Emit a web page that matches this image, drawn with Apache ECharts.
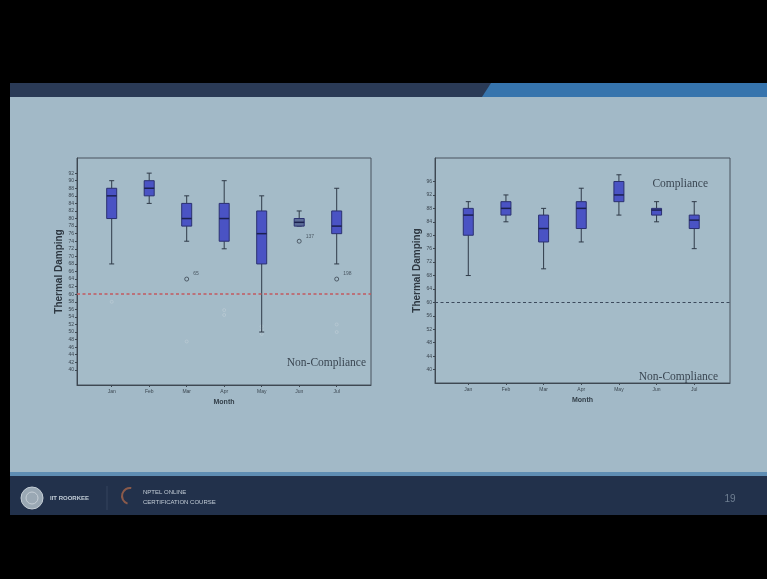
<!DOCTYPE html>
<html><head><meta charset="utf-8">
<script src="https://cdn.jsdelivr.net/npm/echarts@6/dist/echarts.min.js"></script>
<style>html,body{margin:0;padding:0;background:#000}#c{width:767px;height:579px}</style>
</head><body><div id="c"></div>
<script>
// ---------- data ----------
const months = ['Jan','Feb','Mar','Apr','May','Jun','Jul'];
const monthIdx = [0,1,2,3,4,5,6];

// Left chart: box statistics per month
const leftLow  = [68, 84, 74, 72, 50, 78, 68];
const leftQ1   = [80, 86, 78, 74, 68, 78, 76];
const leftMed  = [86, 88, 80, 80, 76, 79, 78];
const leftQ3   = [88, 90, 84, 84, 82, 80, 82];
const leftHigh = [90, 92, 86, 90, 86, 82, 88];
const leftOutliers = [[2, 64], [5, 74], [6, 64]];
const leftOutlierLabels = ['65', '137', '198'];
const leftFaint = [[0, 58], [2, 47.5], [3, 54.5], [3, 55.8], [4, 49.5], [4, 50.5], [4, 51.5], [6, 50], [6, 52]];
const leftTicks = [40,42,44,46,48,50,52,54,56,58,60,62,64,66,68,70,72,74,76,78,80,82,84,86,88,90,92];

// Right chart: box statistics per month
const rightLow  = [68, 84, 70, 78, 86, 84, 76];
const rightQ1   = [80, 86, 78, 82, 90, 86, 82];
const rightMed  = [86, 88, 82, 88, 92, 87.5, 84.5];
const rightQ3   = [88, 90, 86, 90, 96, 88, 86];
const rightHigh = [90, 92, 88, 94, 98, 90, 90];
const rightTicks = [40,44,48,52,56,60,64,68,72,76,80,84,88,92,96];

const threshold = 60;

// ---------- build ----------
const leftBoxes = monthIdx.map(i => [i, leftLow[i], leftQ1[i], leftMed[i], leftQ3[i], leftHigh[i]]);
const rightBoxes = monthIdx.map(i => [i, rightLow[i], rightQ1[i], rightMed[i], rightQ3[i], rightHigh[i]]);

function boxRenderer(fills) {
  return function (params, api) {
    const x = api.value(0);
    const low = api.coord([x, api.value(1)]);
    const q1 = api.coord([x, api.value(2)]);
    const med = api.coord([x, api.value(3)]);
    const q3 = api.coord([x, api.value(4)]);
    const high = api.coord([x, api.value(5)]);
    const cx = low[0], hw = 5, cw = 2.5;
    const ls = { stroke: '#2f3a48', lineWidth: 1 };
    return {
      type: 'group',
      children: [
        { type: 'line', shape: { x1: cx, y1: high[1], x2: cx, y2: q3[1] }, style: ls },
        { type: 'line', shape: { x1: cx, y1: q1[1], x2: cx, y2: low[1] }, style: ls },
        { type: 'line', shape: { x1: cx - cw, y1: high[1], x2: cx + cw, y2: high[1] }, style: ls },
        { type: 'line', shape: { x1: cx - cw, y1: low[1], x2: cx + cw, y2: low[1] }, style: ls },
        { type: 'rect', shape: { x: cx - hw, y: q3[1], width: hw * 2, height: Math.max(q1[1] - q3[1], 1) },
          style: { fill: fills[params.dataIndex] || '#4a53c4', stroke: '#2b3070', lineWidth: 1 } },
        { type: 'line', shape: { x1: cx - hw, y1: med[1], x2: cx + hw, y2: med[1] }, style: { stroke: '#1c2150', lineWidth: 1.5 } }
      ]
    };
  };
}
const leftFills = ['#4a53c4','#4a53c4','#4a53c4','#4a53c4','#4a53c4','#5c6c98','#4a53c4'];
const rightFills = ['#4a53c4','#4a53c4','#4a53c4','#4a53c4','#4a53c4','#4a53c4','#4a53c4'];

const axisText = { color: '#3b4650', fontFamily: 'Liberation Sans' };
function xAxisCfg(gi, min, max) {
  return {
    gridIndex: gi, type: 'value', min: min, max: max,
    name: 'Month', nameLocation: 'middle', nameGap: 14,
    nameTextStyle: { fontSize: 7, fontWeight: 'bold', color: '#34404a', fontFamily: 'Liberation Sans' },
    axisLine: { onZero: false, lineStyle: { color: '#3e4852', width: 1 } },
    axisTick: { length: 2, lineStyle: { color: '#3e4852' }, customValues: monthIdx },
    axisLabel: { fontSize: 5, margin: 4, ...axisText, customValues: monthIdx, formatter: v => months[Math.round(v)] || '' },
    splitLine: { show: false }
  };
}
function yAxisCfg(gi, min, max, ticks, gap) {
  return {
    gridIndex: gi, type: 'value', min: min, max: max,
    name: 'Thermal Damping', nameLocation: 'middle', nameGap: gap, nameRotate: 90,
    nameTextStyle: { fontSize: 10, fontWeight: 'bold', color: '#2e3842', fontFamily: 'Liberation Sans' },
    axisLine: { show: true, onZero: false, lineStyle: { color: '#3e4852', width: 1 } },
    axisTick: { show: true, length: 2, lineStyle: { color: '#3e4852' }, customValues: ticks },
    axisLabel: { fontSize: 5, margin: 3, ...axisText, customValues: ticks },
    splitLine: { show: false }
  };
}

const chart = echarts.init(document.getElementById('c'), null, { renderer: 'canvas' });
chart.setOption({
  backgroundColor: '#000000',
  animation: false,
  graphic: [
    // slide background
    { type: 'rect', z: -10, shape: { x: 10, y: 97, width: 757, height: 378 }, style: { fill: '#a2b9c7' } },
    // top band
    { type: 'rect', z: -10, shape: { x: 10, y: 83, width: 757, height: 14 }, style: { fill: '#2a3a56' } },
    { type: 'polygon', z: -9, shape: { points: [[482, 97], [491, 83], [767, 83], [767, 97]] }, style: { fill: '#3674ad' } },
    // footer
    { type: 'rect', z: -10, shape: { x: 10, y: 472, width: 757, height: 4 }, style: { fill: '#5f8db3' } },
    { type: 'rect', z: -10, shape: { x: 10, y: 476, width: 757, height: 39 }, style: { fill: '#22314b' } },
    { type: 'circle', shape: { cx: 32, cy: 498, r: 11 }, style: { fill: '#9aa8b4', stroke: '#c5ced6', lineWidth: 1 } },
    { type: 'circle', shape: { cx: 32, cy: 498, r: 6 }, style: { fill: 'none', stroke: '#c5ced6', lineWidth: 1 } },
    { type: 'text', style: { x: 50, y: 498, text: 'IIT ROORKEE', fontSize: 6, fontWeight: 'bold', fill: '#c2ccd6', verticalAlign: 'middle', fontFamily: 'Liberation Sans' } },
    { type: 'line', shape: { x1: 107, y1: 486, x2: 107, y2: 510 }, style: { stroke: '#34445e', lineWidth: 1 } },
    { type: 'arc', shape: { cx: 130, cy: 496, r: 8, startAngle: Math.PI * 0.6, endAngle: Math.PI * 1.55 }, style: { stroke: '#8a5a4a', lineWidth: 2, fill: 'none' } },
    { type: 'text', style: { x: 143, y: 492, text: 'NPTEL ONLINE', fontSize: 6, fill: '#c2ccd6', verticalAlign: 'middle', fontFamily: 'Liberation Sans' } },
    { type: 'text', style: { x: 143, y: 502, text: 'CERTIFICATION COURSE', fontSize: 6, fill: '#c2ccd6', verticalAlign: 'middle', fontFamily: 'Liberation Sans' } },
    { type: 'text', style: { x: 730, y: 499, text: '19', fontSize: 10, fill: '#6f7f92', align: 'center', verticalAlign: 'middle', fontFamily: 'Liberation Sans' } },
    // annotations
    { type: 'text', style: { x: 366, y: 363, text: 'Non-Compliance', fontSize: 11.5, fill: '#3a4652', align: 'right', verticalAlign: 'middle', fontFamily: 'Liberation Serif' } },
    { type: 'text', style: { x: 708, y: 184, text: 'Compliance', fontSize: 11.5, fill: '#3a4652', align: 'right', verticalAlign: 'middle', fontFamily: 'Liberation Serif' } },
    { type: 'text', style: { x: 718, y: 377, text: 'Non-Compliance', fontSize: 11.5, fill: '#3a4652', align: 'right', verticalAlign: 'middle', fontFamily: 'Liberation Serif' } }
  ],
  grid: [
    { left: 77, top: 158, width: 294, height: 227, show: true, borderColor: '#48535e', borderWidth: 1, backgroundColor: 'rgba(180,200,210,0.15)' },
    { left: 435, top: 158, width: 295, height: 225, show: true, borderColor: '#48535e', borderWidth: 1, backgroundColor: 'rgba(180,200,210,0.15)' }
  ],
  xAxis: [xAxisCfg(0, -0.925, 6.915), xAxisCfg(1, -0.884, 6.95)],
  yAxis: [yAxisCfg(0, 36, 96, leftTicks, 11), yAxisCfg(1, 36, 103, rightTicks, 10)],
  series: [
    {
      type: 'custom', name: 'left', xAxisIndex: 0, yAxisIndex: 0,
      renderItem: boxRenderer(leftFills), data: leftBoxes, z: 3,
      markLine: {
        silent: true, symbol: 'none', label: { show: false },
        lineStyle: { color: '#c25a5f', type: [3, 2.5], width: 1.5 },
        data: [{ yAxis: threshold }]
      }
    },
    {
      type: 'scatter', xAxisIndex: 0, yAxisIndex: 0, data: leftOutliers,
      symbol: 'circle', symbolSize: 4,
      itemStyle: { color: 'rgba(0,0,0,0)', borderColor: '#3a4450', borderWidth: 1 },
      label: { show: true, position: 'right', offset: [-1, -5], fontSize: 5, color: '#333d48',
        formatter: p => leftOutlierLabels[p.dataIndex] }
    },
    {
      type: 'scatter', xAxisIndex: 0, yAxisIndex: 0, data: leftFaint,
      symbol: 'circle', symbolSize: 3,
      itemStyle: { color: 'rgba(0,0,0,0)', borderColor: '#b9c9d3', borderWidth: 1 }
    },
    {
      type: 'custom', name: 'right', xAxisIndex: 1, yAxisIndex: 1,
      renderItem: boxRenderer(rightFills), data: rightBoxes, z: 3,
      markLine: {
        silent: true, symbol: 'none', label: { show: false },
        lineStyle: { color: '#3c4a5c', type: [3, 2.5], width: 1.2 },
        data: [{ yAxis: threshold }]
      }
    }
  ]
});
</script>
</body></html>
